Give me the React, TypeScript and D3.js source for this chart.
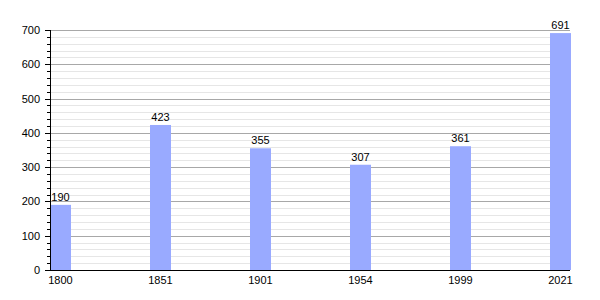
import React from "react";
import * as d3 from "d3";

const years = ["1800", "1851", "1901", "1954", "1999", "2021"];
const population = [190, 423, 355, 307, 361, 691];
const yTicks = [0, 100, 200, 300, 400, 500, 600, 700];

export default function App() {
  const W = 600, H = 300;
  const x0 = 50, x1 = 570, yTop = 30, yBot = 270;
  const x = d3.scaleBand<string>().domain(years).range([x0, x0 + 100 * years.length]).paddingInner(0).paddingOuter(0);
  const y = d3.scaleLinear().domain([0, 700]).range([yBot, yTop]);
  const minor = d3.range(0, 701, 20);
  const barW = 21;
  const font = "'Liberation Sans', Arial, sans-serif";
  return (
    <svg width={W} height={H} style={{ position: "absolute", left: 0, top: 0 }} fontFamily={font}>
      <rect width={W} height={H} fill="#fff" />
      {minor.filter(v => v % 100 !== 0).map(v => (
        <line key={"m" + v} x1={x0} x2={x1} y1={Math.round(y(v)) + 0.5} y2={Math.round(y(v)) + 0.5} stroke="#e6e6e6" />
      ))}
      {yTicks.filter(v => v > 0).map(v => (
        <line key={"g" + v} x1={x0} x2={x1} y1={Math.round(y(v)) + 0.5} y2={Math.round(y(v)) + 0.5} stroke="#a8a8a8" />
      ))}
      {years.map((yr, i) => (
        <g key={yr}>
          <rect x={x(yr)!} y={y(population[i])} width={barW} height={yBot - y(population[i])} fill="#99aaff" />
          <text x={x(yr)! + barW / 2} y={y(population[i]) - 4} textAnchor="middle" fontSize={11} fill="#000">{population[i]}</text>
          <text x={x(yr)! + barW / 2} y={yBot + 14} textAnchor="middle" fontSize={11} fill="#000">{yr}</text>
        </g>
      ))}
      {minor.map(v => (
        <line key={"t" + v} x1={v % 100 === 0 ? x0 - 5 : x0 - 3} x2={x0} y1={Math.round(y(v)) + 0.5} y2={Math.round(y(v)) + 0.5} stroke="#000" />
      ))}
      {yTicks.map(v => (
        <text key={"l" + v} x={x0 - 10} y={y(v) + 4} textAnchor="end" fontSize={11} fill="#000">{v}</text>
      ))}
      <line x1={x0 + 0.5} x2={x0 + 0.5} y1={yTop} y2={yBot} stroke="#000" />
      <line x1={x0} x2={x1} y1={yBot + 0.5} y2={yBot + 0.5} stroke="#000" />
    </svg>
  );
}
